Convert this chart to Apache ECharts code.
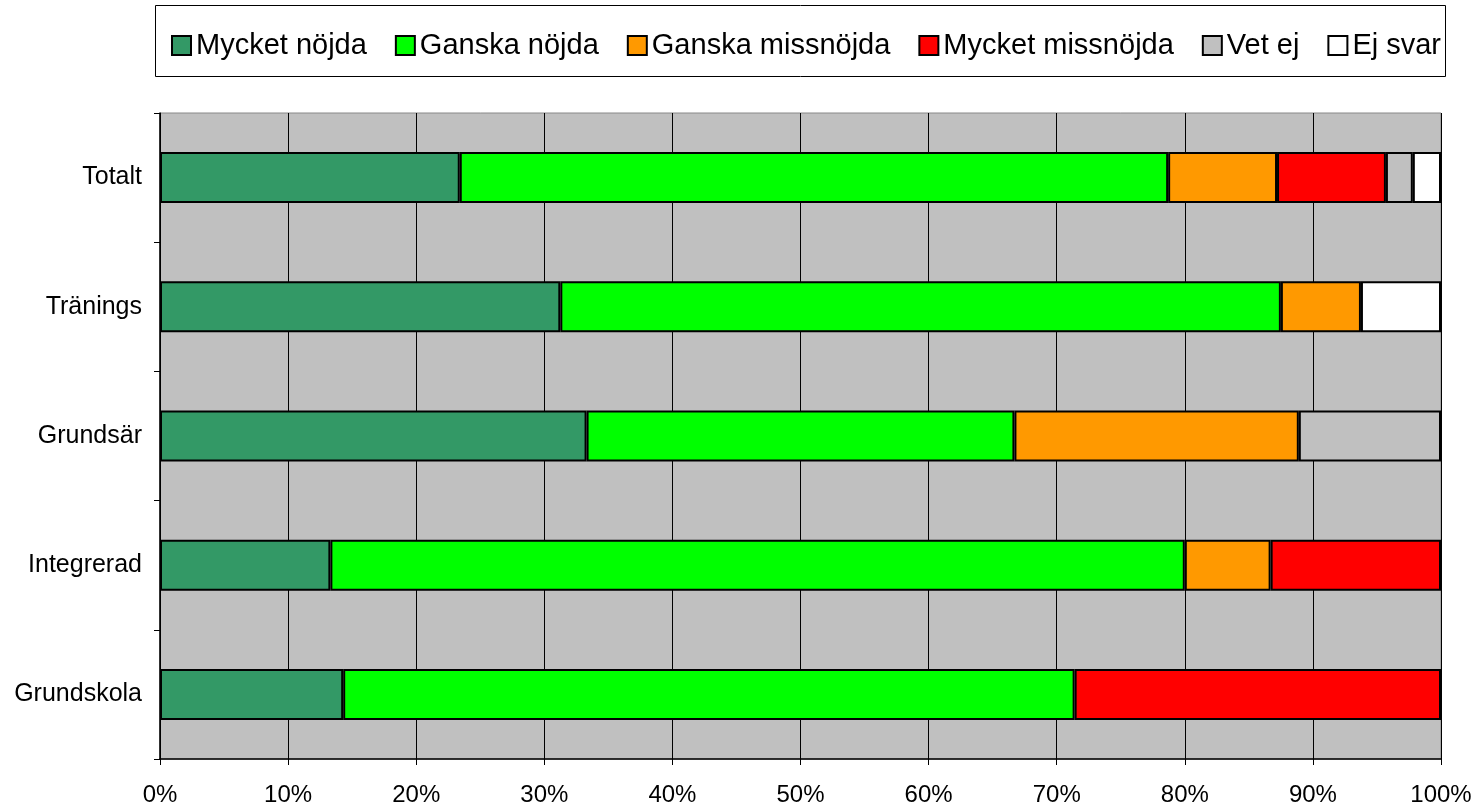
<!DOCTYPE html>
<html>
<head>
<meta charset="utf-8">
<script src="https://cdn.jsdelivr.net/npm/echarts@6/dist/echarts.min.js"></script>
<style>
  html, body { margin: 0; padding: 0; background: #fff; }
  #chart { width: 1479px; height: 807px; }
</style>
</head>
<body>
<div id="chart"></div>
<script>
// categories, top to bottom
const categories = ['Totalt', 'Tränings', 'Grundsär', 'Integrerad', 'Grundskola']
const seriesNames = ['Mycket nöjda', 'Ganska nöjda', 'Ganska missnöjda', 'Mycket missnöjda', 'Vet ej', 'Ej svar']
const colors = ['#339966', '#00ff00', '#ff9900', '#ff0000', '#c0c0c0', '#ffffff']

// percent per category, same order as categories
const mycketNojda     = [23.4, 31.25, 33.3, 13.3, 14.3]
const ganskaNojda     = [55.3, 56.25, 33.4, 66.7, 57.1]
const ganskaMissnojda = [8.5, 6.25, 22.2, 6.7, 0]
const mycketMissnojda = [8.5, 0, 0, 13.3, 28.6]
const vetEj           = [2.1, 0, 11.1, 0, 0]
const ejSvar          = [2.2, 6.25, 0, 0, 0]
const xTicks = [0, 10, 20, 30, 40, 50, 60, 70, 80, 90, 100]

const values = [mycketNojda, ganskaNojda, ganskaMissnojda, mycketMissnojda, vetEj, ejSvar]

let chart = echarts.init(document.getElementById('chart'))
let option = {
  animation: false,
  textStyle: { fontFamily: 'Liberation Sans, Arial, sans-serif', color: '#000' },
  graphic: [{
    type: 'rect',
    shape: { x: 155.5, y: 5.5, width: 1290, height: 71 },
    style: { fill: '#fff', stroke: '#000', lineWidth: 1 },
    z: -1
  }],
  legend: {
    left: 166,
    top: 26,
    itemGap: 28,
    itemWidth: 19,
    itemHeight: 19,
    icon: 'rect',
    textStyle: { fontSize: 29, color: '#000' },
    itemStyle: { borderColor: '#000', borderWidth: 2 },
    data: seriesNames
  },
  grid: {
    left: 160,
    right: 38,
    top: 113,
    bottom: 48,
    show: true,
    backgroundColor: '#c0c0c0',
    borderColor: '#888',
    borderWidth: 1
  },
  xAxis: {
    type: 'value',
    min: xTicks[0],
    max: xTicks[xTicks.length - 1],
    interval: 10,
    axisLine: { show: true, lineStyle: { color: '#000', width: 1.5 } },
    axisTick: { show: true, length: 6, lineStyle: { color: '#000' } },
    axisLabel: { fontSize: 24, color: '#000', margin: 24, formatter: '{value}%' },
    splitLine: { show: true, lineStyle: { color: '#000', width: 1 } }
  },
  yAxis: {
    type: 'category',
    inverse: true,
    data: categories,
    axisLine: { show: true, lineStyle: { color: '#000', width: 1.5 } },
    axisTick: { show: true, length: 6, lineStyle: { color: '#000' } },
    axisLabel: { fontSize: 25, color: '#000', margin: 18 },
    splitLine: { show: false }
  },
  series: seriesNames.map((name, i) => ({
    name: name,
    type: 'bar',
    stack: 'total',
    barWidth: 51,
    itemStyle: { color: colors[i], borderColor: '#000', borderWidth: 2 },
    data: values[i].map(v => v || '-')
  }))
}
chart.setOption(option)
</script>
</body>
</html>
